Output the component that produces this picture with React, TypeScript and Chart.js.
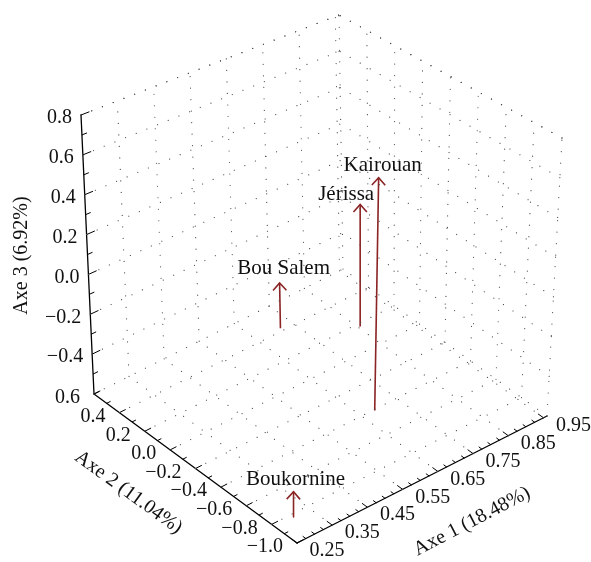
import React, { useEffect, useRef } from "react";
import { Chart, registerables } from "chart.js";
Chart.register(...registerables);

// ---------- data ----------
const siteNames = ["Kairouan", "Jérissa", "Bou Salem", "Boukornine"];
const axe1Values = [0.685, 0.856, 0.717, 0.303];
const axe2Values = [-0.407, 0.178, 0.422, -0.822];
const axe3Values = [0.569, 0.045, -0.361, -0.482];

const axe1TickLabels = [0.25, 0.35, 0.45, 0.55, 0.65, 0.75, 0.85, 0.95];
const axe2TickLabels = [0.6, 0.4, 0.2, 0.0, -0.2, -0.4, -0.6, -0.8, -1.0];
const axe3TickLabels = [0.8, 0.6, 0.4, 0.2, 0.0, -0.2, -0.4];
const axisTitles = ["Axe 1 (18.48%)", "Axe 2 (11.04%)", "Axe 3 (6.92%)"];

const axe1Range = [0.25, 0.96];
const axe2Range = [-1.0, 0.6];
const axe3Range = [-0.6, 0.8];
const axe1MinorStep = 0.025;
const axe2MinorStep = 0.1;
const axe3MinorStep = 0.1;

// ---------- layout (projection of the box corners) ----------
const W = 591;
const H = 562;
const C = {
  f0: [297, 543], r0: [547, 416], l0: [94, 394], b0: [343, 269],
  f1: [304, 240], r1: [562, 138], l1: [81, 115], b1: [339, 15],
};
const labelOffsets = [[4, -12], [-14, -10], [4, -14], [2, -12]];
const FONT = '"Liberation Serif", "Times New Roman", serif';
const ARROW = "#8b2424";

function project(a1: number, a2: number, a3: number) {
  const u = (a1 - axe1Range[0]) / (axe1Range[1] - axe1Range[0]);
  const v = (a2 - axe2Range[0]) / (axe2Range[1] - axe2Range[0]);
  const w = (a3 - axe3Range[0]) / (axe3Range[1] - axe3Range[0]);
  const bil = (k: number, z: number) => {
    const f = z ? C.f1 : C.f0, r = z ? C.r1 : C.r0, l = z ? C.l1 : C.l0, b = z ? C.b1 : C.b0;
    return f[k] * (1 - u) * (1 - v) + r[k] * u * (1 - v) + l[k] * (1 - u) * v + b[k] * u * v;
  };
  return {
    x: bil(0, 0) * (1 - w) + bil(0, 1) * w,
    y: bil(1, 0) * (1 - w) + bil(1, 1) * w,
  };
}

const fmt = (v: number, d: number) => {
  const s = Math.abs(v) < 1e-9 ? (0).toFixed(d) : v.toFixed(d);
  return s.replace("-", "\u2212");
};

function stepValues(lo: number, hi: number, step: number, start: number) {
  const out: number[] = [];
  const k0 = Math.ceil((lo - start) / step - 1e-6);
  for (let k = k0; start + k * step <= hi + 1e-9; k++) out.push(+(start + k * step).toFixed(6));
  return out;
}
const isMajor = (v: number, arr: number[]) => arr.some((t) => Math.abs(t - v) < 1e-6);

export default function App() {
  const ref = useRef<HTMLCanvasElement | null>(null);

  useEffect(() => {
    if (!ref.current) return;
    const [x0, x1] = axe1Range, [y0, y1] = axe2Range, [z0, z1] = axe3Range;
    const datasets: any[] = [];
    const addLine = (pts: { x: number; y: number }[], style: any) =>
      datasets.push({
        data: pts, showLine: true, pointRadius: 0, fill: false, tension: 0,
        borderCapStyle: "round", ...style,
      });
    const dotted = { borderColor: "#4a4a4a", borderWidth: 1.2, borderDash: [0.01, 11.5] };
    const solid = { borderColor: "#000", borderWidth: 1.3 };
    const L3 = (a: number[], b: number[], st: any) =>
      addLine([project(a[0], a[1], a[2]), project(b[0], b[1], b[2])], st);

    // grid: floor
    axe1TickLabels.forEach((a) => { if (a > x0 + 1e-6) L3([a, y0, z0], [a, y1, z0], dotted); });
    axe2TickLabels.forEach((b) => { if (b > y0 + 1e-6 && b < y1 - 1e-6) L3([x0, b, z0], [x1, b, z0], dotted); });
    // grid: left back wall (a2 = max)
    axe1TickLabels.forEach((a) => { if (a > x0 + 1e-6) L3([a, y1, z0], [a, y1, z1], dotted); });
    axe3TickLabels.forEach((c) => L3([x0, y1, c], [x1, y1, c], dotted));
    // grid: right back wall (a1 = max)
    axe2TickLabels.forEach((b) => { if (b > y0 + 1e-6 && b < y1 - 1e-6) L3([x1, b, z0], [x1, b, z1], dotted); });
    axe3TickLabels.forEach((c) => L3([x1, y0, c], [x1, y1, c], dotted));
    // box edges
    L3([x1, y1, z0], [x1, y1, z1], dotted);
    L3([x1, y0, z0], [x1, y0, z1], dotted);
    L3([x0, y1, z1], [x1, y1, z1], dotted);
    L3([x1, y0, z1], [x1, y1, z1], dotted);
    L3([x0, y1, z0], [x1, y1, z0], dotted);
    L3([x1, y0, z0], [x1, y1, z0], dotted);

    // axes
    L3([x0, y0, z0], [x1, y0, z0], solid); // axe 1
    L3([x0, y0, z0], [x0, y1, z0], solid); // axe 2
    L3([x0, y1, z0], [x0, y1, z1], solid); // axe 3

    const tickSt = { borderColor: "#000", borderWidth: 1 };
    stepValues(x0, x1, axe1MinorStep, axe1TickLabels[0]).forEach((a) => {
      const len = isMajor(a, axe1TickLabels) ? 0.04 : 0.022;
      L3([a, y0, z0], [a, y0 + len, z0], tickSt);
    });
    stepValues(y0, y1, axe2MinorStep, axe2TickLabels[axe2TickLabels.length - 1]).forEach((b) => {
      const len = isMajor(b, axe2TickLabels) ? 0.017 : 0.01;
      L3([x0, b, z0], [x0 + len, b, z0], tickSt);
    });
    stepValues(z0, z1, axe3MinorStep, axe3TickLabels[axe3TickLabels.length - 1]).forEach((c) => {
      const len = isMajor(c, axe3TickLabels) ? 0.022 : 0.013;
      L3([x0, y1, c], [x0 + len, y1, c], tickSt);
    });

    // arrows
    const arrowSt = { borderColor: ARROW, borderWidth: 1.6, borderCapStyle: "butt" };
    siteNames.forEach((_, i) => {
      const base = project(axe1Values[i], axe2Values[i], z0);
      const tip = project(axe1Values[i], axe2Values[i], axe3Values[i]);
      addLine([base, tip], arrowSt);
      const dx = tip.x - base.x, dy = tip.y - base.y;
      const n = Math.hypot(dx, dy) || 1;
      const ux = dx / n, uy = dy / n;
      const th = (42 * Math.PI) / 180, Lw = 10;
      const wing = (s: number) => ({
        x: tip.x - Lw * (ux * Math.cos(s * th) - uy * Math.sin(s * th)),
        y: tip.y - Lw * (ux * Math.sin(s * th) + uy * Math.cos(s * th)),
      });
      addLine([wing(1), tip, wing(-1)], { ...arrowSt, borderJoinStyle: "miter" });
    });

    const textPlugin = {
      id: "texts3d",
      afterDatasetsDraw(chart: any) {
        const ctx = chart.ctx;
        const sx = chart.scales.x, sy = chart.scales.y;
        const P = (p: { x: number; y: number }) => [sx.getPixelForValue(p.x), sy.getPixelForValue(p.y)];
        ctx.save();
        ctx.fillStyle = "#111";
        ctx.font = `20px ${FONT}`;
        ctx.textBaseline = "middle";
        // axe 3 tick labels
        ctx.textAlign = "right";
        axe3TickLabels.forEach((c) => {
          const [px, py] = P(project(x0, y1, c));
          ctx.fillText(fmt(c, 1), px - 9, py + 3);
        });
        // axe 2 tick labels
        axe2TickLabels.forEach((b) => {
          const [px, py] = P(project(x0, b, z0));
          ctx.fillText(fmt(b, 1), px - 14, py + 4);
        });
        // axe 1 tick labels
        ctx.textAlign = "center";
        axe1TickLabels.forEach((a) => {
          const [px, py] = P(project(a, y0, z0));
          ctx.fillText(fmt(a, 2), px + 30, py + 8);
        });
        // axis titles
        const title = (t: string, p: { x: number; y: number }, ox: number, oy: number, ang: number) => {
          const [px, py] = P(p);
          ctx.save();
          ctx.translate(px + ox, py + oy);
          ctx.rotate((ang * Math.PI) / 180);
          ctx.textAlign = "center";
          ctx.fillText(t, 0, 0);
          ctx.restore();
        };
        title(axisTitles[0], project((x0 + x1) / 2, y0, z0), 50, 42, -27.5);
        title(axisTitles[1], project(x0, (y0 + y1) / 2, z0), -67, 24, 36);
        title(axisTitles[2], project(x0, y1, (z0 + z1) / 2), -66, 1, -90);
        // site labels
        ctx.font = `21px ${FONT}`;
        siteNames.forEach((s, i) => {
          const [px, py] = P(project(axe1Values[i], axe2Values[i], axe3Values[i]));
          ctx.fillText(s, px + labelOffsets[i][0], py + labelOffsets[i][1]);
        });
        ctx.restore();
      },
    };

    const chart = new Chart(ref.current, {
      type: "scatter",
      data: { datasets },
      options: {
        responsive: false,
        animation: false,
        events: [],
        layout: { padding: 0 },
        plugins: { legend: { display: false }, tooltip: { enabled: false } },
        scales: {
          x: { type: "linear", min: 0, max: W, display: false },
          y: { type: "linear", min: 0, max: H, reverse: true, display: false },
        },
        elements: { line: { borderJoinStyle: "round" } },
        clip: false as any,
      },
      plugins: [textPlugin],
    });
    return () => chart.destroy();
  }, []);

  return (
    <div style={{ position: "fixed", left: 0, top: 0, width: W, height: H, background: "#fff" }}>
      <canvas ref={ref} width={W} height={H} style={{ display: "block" }} />
    </div>
  );
}
